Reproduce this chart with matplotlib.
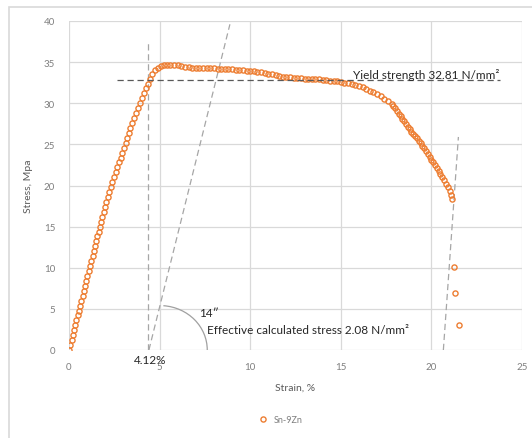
import matplotlib.pyplot as plt
from matplotlib.patches import Arc, Rectangle

# stress-strain curve (strain %, stress MPa)
strain = [
    0.00, 0.07, 0.14, 0.20, 0.27, 0.34, 0.41, 0.48, 0.55, 0.61,
    0.68, 0.75, 0.82, 0.89, 0.95, 1.02, 1.09, 1.16, 1.23, 1.30,
    1.36, 1.43, 1.50, 1.57, 1.64, 1.70, 1.77, 1.84, 1.91, 1.98,
    2.06, 2.14, 2.23, 2.32, 2.40, 2.49, 2.58, 2.67, 2.76, 2.86,
    2.95, 3.04, 3.12, 3.21, 3.30, 3.39, 3.47, 3.57, 3.68, 3.79,
    3.90, 4.01, 4.12, 4.23, 4.34, 4.47, 4.60, 4.76, 4.92, 5.08,
    5.25, 5.42, 5.60, 5.80, 6.00,
    6.2, 6.4, 6.6, 6.8, 7.0, 7.2, 7.4, 7.6, 7.8, 8.0,
    8.2, 8.4, 8.6, 8.8, 9.0, 9.2, 9.4, 9.6, 9.8, 10.0,
    10.2, 10.4, 10.6, 10.8, 11.0, 11.2, 11.4, 11.6, 11.8, 12.0,
    12.2, 12.4, 12.6, 12.8, 13.0, 13.2, 13.4, 13.6, 13.8, 14.0,
    14.2, 14.4, 14.6, 14.8, 15.0, 15.2, 15.4, 15.6, 15.8, 16.0,
    16.2, 16.4, 16.6, 16.8, 17.0, 17.2, 17.4, 17.6, 17.8, 17.9,
    18.0, 18.1, 18.2, 18.3, 18.4, 18.5, 18.6, 18.7, 18.8, 18.9,
    19.0, 19.1, 19.2, 19.3, 19.4, 19.5, 19.6, 19.7, 19.8, 19.9,
    20.0, 20.1, 20.2, 20.3, 20.4, 20.5, 20.6, 20.7, 20.8, 20.9,
    21.0, 21.1, 21.16,
    21.25, 21.28, 21.54,
]
stress = [
    0.0, 0.6, 1.2, 1.8, 2.4, 3.0, 3.6, 4.2, 4.8, 5.4,
    6.0, 6.6, 7.2, 7.8, 8.4, 9.0, 9.6, 10.2, 10.8, 11.4,
    12.0, 12.6, 13.2, 13.8, 14.4, 15.0, 15.6, 16.2, 16.8, 17.4,
    18.0, 18.6, 19.2, 19.8, 20.4, 21.0, 21.6, 22.2, 22.8, 23.4,
    24.0, 24.6, 25.2, 25.8, 26.4, 27.0, 27.6, 28.2, 28.8, 29.4,
    30.0, 30.6, 31.2, 31.8, 32.4, 33.0, 33.5, 34.0, 34.3, 34.5,
    34.6, 34.7, 34.7, 34.7, 34.6,
    34.5, 34.4, 34.35, 34.3, 34.3, 34.3, 34.25, 34.25, 34.25, 34.25,
    34.2, 34.2, 34.2, 34.2, 34.15, 34.1, 34.05, 34.0, 33.95, 33.95,
    33.9, 33.85, 33.75, 33.7, 33.6, 33.55, 33.45, 33.35, 33.25, 33.2,
    33.15, 33.1, 33.1, 33.05, 33.0, 33.0, 32.95, 32.95, 32.9, 32.85,
    32.8, 32.75, 32.7, 32.65, 32.6, 32.5, 32.45, 32.35, 32.25, 32.1,
    31.95, 31.75, 31.55, 31.35, 31.1, 30.85, 30.55, 30.25, 29.9, 29.7,
    29.4, 29.1, 28.75, 28.45, 28.1, 27.8, 27.45, 27.15, 26.85, 26.55,
    26.3, 26.0, 25.75, 25.45, 25.15, 24.85, 24.5, 24.15, 23.8, 23.5,
    23.15, 22.8, 22.45, 22.1, 21.75, 21.4, 21.05, 20.65, 20.2, 19.8,
    19.35, 18.85, 18.3,
    10.05, 6.93, 3.04,
]

yield_strength = 32.81
vert_x = [4.38, 4.38]
vert_y = [0, 37.4]
slope_x = [4.41, 8.88]
slope_y = [0, 39.6]
yield_x = [2.63, 23.8]
end_x = [20.66, 21.49]
end_y = [0, 25.9]

orange = '#ED7D31'
grid_c = '#d9d9d9'
tick_c = '#7f7f7f'

plt.rcParams['font.family'] = ['Lato', 'DejaVu Sans']

fig = plt.figure(figsize=(5.32, 4.39), dpi=100)
fig.patches.append(Rectangle((9 / 532, -0.05), 1.2, 1 - 8 / 439 + 0.05,
                             transform=fig.transFigure, fill=False,
                             edgecolor=grid_c, linewidth=1.2))
ax = fig.add_axes([69 / 532, 1 - 351 / 439, (522 - 69) / 532, (351 - 22) / 439])

ax.plot(strain, stress, linestyle='none', marker='o', markersize=3.7,
        markerfacecolor='none', markeredgecolor=orange, markeredgewidth=1.0,
        label='Sn-9Zn', zorder=3)

ax.plot(vert_x, vert_y, color='#a6a6a6', linestyle=(0, (5, 3)), linewidth=0.9)
ax.plot(slope_x, slope_y, color='#a6a6a6', linestyle=(0, (5, 3)), linewidth=0.9)
ax.plot(end_x, end_y, color='#a6a6a6', linestyle=(0, (5, 3)), linewidth=0.9)
ax.plot(yield_x, [yield_strength, yield_strength], color='#595959',
        linestyle=(0, (5, 3)), linewidth=0.9, zorder=4)
ax.add_patch(Arc((5.02, 0), 2 * 2.61, 2 * 5.4, theta1=0, theta2=88,
                 color='#a0a0a0', linewidth=0.9))

ax.text(15.67, 33.6, 'Yield strength 32.81 N/mm\u00b2', fontsize=8.5,
        color='#262626', va='center', ha='left', zorder=5)
ax.text(7.2, 4.5, '14\u2033', fontsize=8.5, color='#262626',
        va='center', ha='left')
ax.text(7.62, 2.55, 'Effective calculated stress 2.08 N/mm\u00b2', fontsize=8.5,
        color='#262626', va='center', ha='left')
ax.text(4.47, -1.2, '4.12%', fontsize=8.5, color='#262626',
        va='center', ha='center', clip_on=False, zorder=5)

ax.set_xlim(0, 25)
ax.set_ylim(0, 40)
ax.set_xticks(range(0, 26, 5))
ax.set_yticks(range(0, 41, 5))
ax.grid(True, color=grid_c, linewidth=0.9)
ax.set_axisbelow(True)
for s in ax.spines.values():
    s.set_visible(False)
ax.tick_params(length=0, labelsize=7, labelcolor=tick_c)
ax.tick_params(axis='x', pad=9)
ax.tick_params(axis='y', pad=10)

ax.set_xlabel('Strain, %', fontsize=7.5, color='#595959', labelpad=8)
ax.set_ylabel('Stress, Mpa', fontsize=7.5, color='#595959', labelpad=8)

fig.legend(loc='center', bbox_to_anchor=(278 / 532, 1 - 421 / 439),
           frameon=False, fontsize=6.5, labelcolor='#7f7f7f',
           handletextpad=0.2, markerscale=1.0)

fig.savefig('out.png', dpi=100)
